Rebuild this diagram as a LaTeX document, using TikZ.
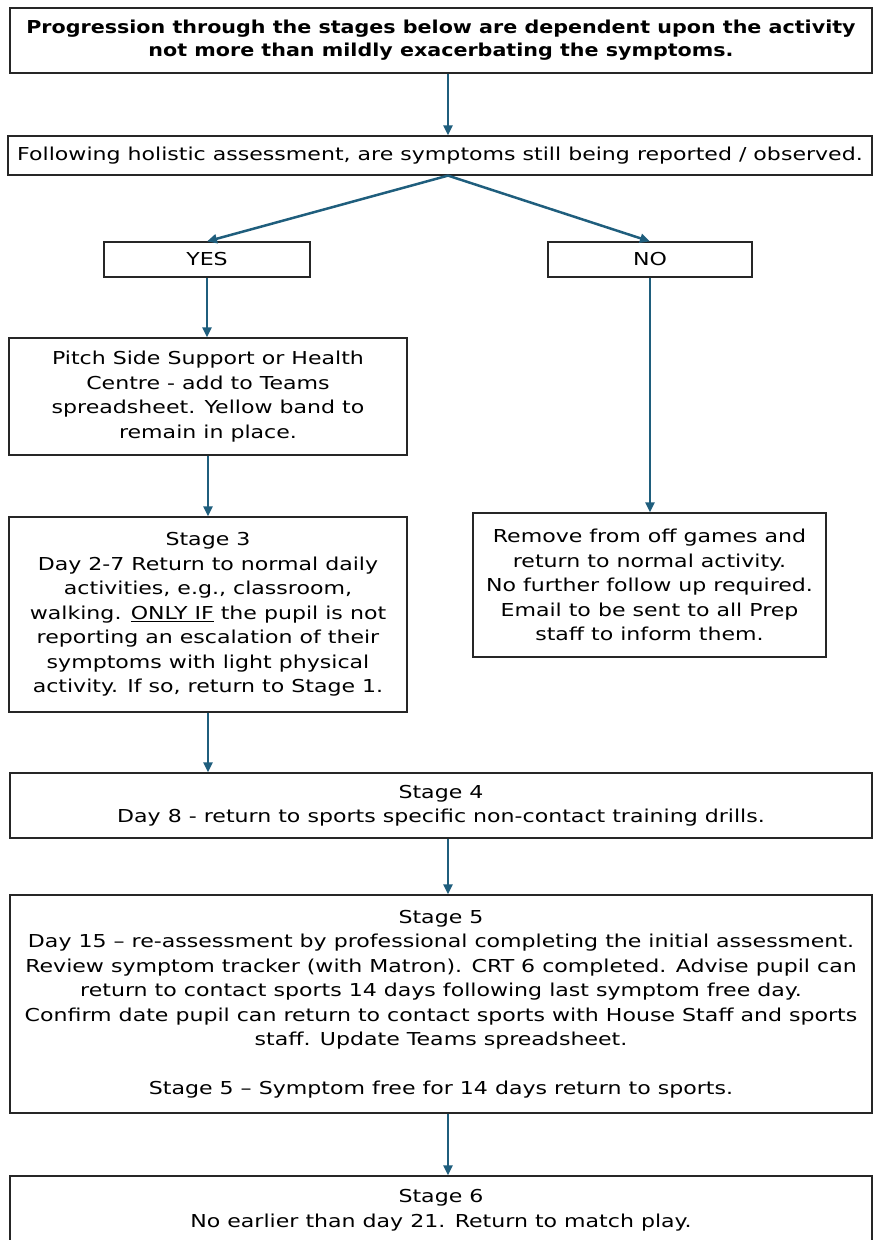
\documentclass[tikz,border=0pt]{standalone}
\usepackage{fontspec}
\setmainfont{DejaVu Sans}[FakeStretch=1.24]
\newfontfamily\titlefont{DejaVu Sans}[FakeStretch=1.16]
\usepackage{tikz}
\usetikzlibrary{arrows.meta, positioning, calc}

\definecolor{flowteal}{RGB}{31,94,125}

\begin{document}
\begin{tikzpicture}[
    x=1pt, y=1pt,
    box/.style={rectangle, draw=black!85, line width=1.2pt, align=center, inner sep=0pt,
      font=\fontsize{17.8}{24.5}\selectfont},
    arrow/.style={-{Triangle[length=10pt, width=9pt]}, line width=2.5pt, flowteal}
  ]
    \useasboundingbox (0,0) rectangle (877,-1240);
    \clip (0,0) rectangle (877,-1240);

    % top: condition and assessment
    \node[box, minimum width=862, minimum height=65, font=\titlefont\bfseries\fontsize{17.8}{23}\selectfont] (title) at (441,-40.5)
      {Progression through the stages below are dependent upon the activity\\not more than mildly exacerbating the symptoms.};
    \node[box, minimum width=864, minimum height=39] (assess) at (440,-155.5)
      {Following holistic assessment, are symptoms still being reported / observed.};
    \coordinate (spine) at (448,0);

    % answers
    \node[box, minimum width=206, minimum height=35] (yes) at (207,-259.5) {YES};
    \node[box, minimum width=204, minimum height=35] (no) at (650,-259.5) {NO};

    % left branch
    \node[box, minimum width=398, minimum height=117] (pitch) at (208,-396.5)
      {Pitch Side Support or Health\\Centre - add to Teams\\spreadsheet. Yellow band to\\remain in place.};
    \node[box, minimum width=398, minimum height=195] (stage3) at (208,-614.5)
      {Stage 3\\Day 2-7 Return to normal daily\\activities, e.g., classroom,\\walking. \underline{ONLY IF} the pupil is not\\reporting an escalation of their\\symptoms with light physical\\activity. If so, return to Stage 1.};

    % right branch
    \node[box, minimum width=353, minimum height=144] (remove) at (649.5,-585)
      {Remove from off games and\\return to normal activity.\\No further follow up required.\\Email to be sent to all Prep\\staff to inform them.};

    % later stages
    \node[box, minimum width=862, minimum height=65] (stage4) at (441,-805.5)
      {Stage 4\\Day 8 - return to sports specific non-contact training drills.};
    \node[box, minimum width=862, minimum height=218] (stage5) at (441,-1004)
      {Stage 5\\Day 15 – re-assessment by professional completing the initial assessment.\\Review symptom tracker (with Matron). CRT 6 completed. Advise pupil can\\return to contact sports 14 days following last symptom free day.\\Confirm date pupil can return to contact sports with House Staff and sports\\staff. Update Teams spreadsheet.\\[24.5pt]Stage 5 – Symptom free for 14 days return to sports.};
    \node[box, minimum width=862, minimum height=68] (stage6) at (441,-1210)
      {Stage 6\\No earlier than day 21. Return to match play.};

    % connectors
    \draw[arrow] (title.south -| spine) -- (assess.north -| spine);
    \draw[arrow] (assess.south -| spine) -- (yes.north);
    \draw[arrow] (assess.south -| spine) -- (no.north);
    \draw[arrow] (yes.south) -- (yes.south |- pitch.north);
    \draw[arrow] (pitch) -- (stage3);
    \draw[arrow] (no.south) -- (no.south |- remove.north);
    \draw[arrow] (stage3.south) -- (stage3.south |- stage4.north);
    \draw[arrow] (stage4.south -| spine) -- (stage5.north -| spine);
    \draw[arrow] (stage5.south -| spine) -- (stage6.north -| spine);

  \end{tikzpicture}
\end{document}
